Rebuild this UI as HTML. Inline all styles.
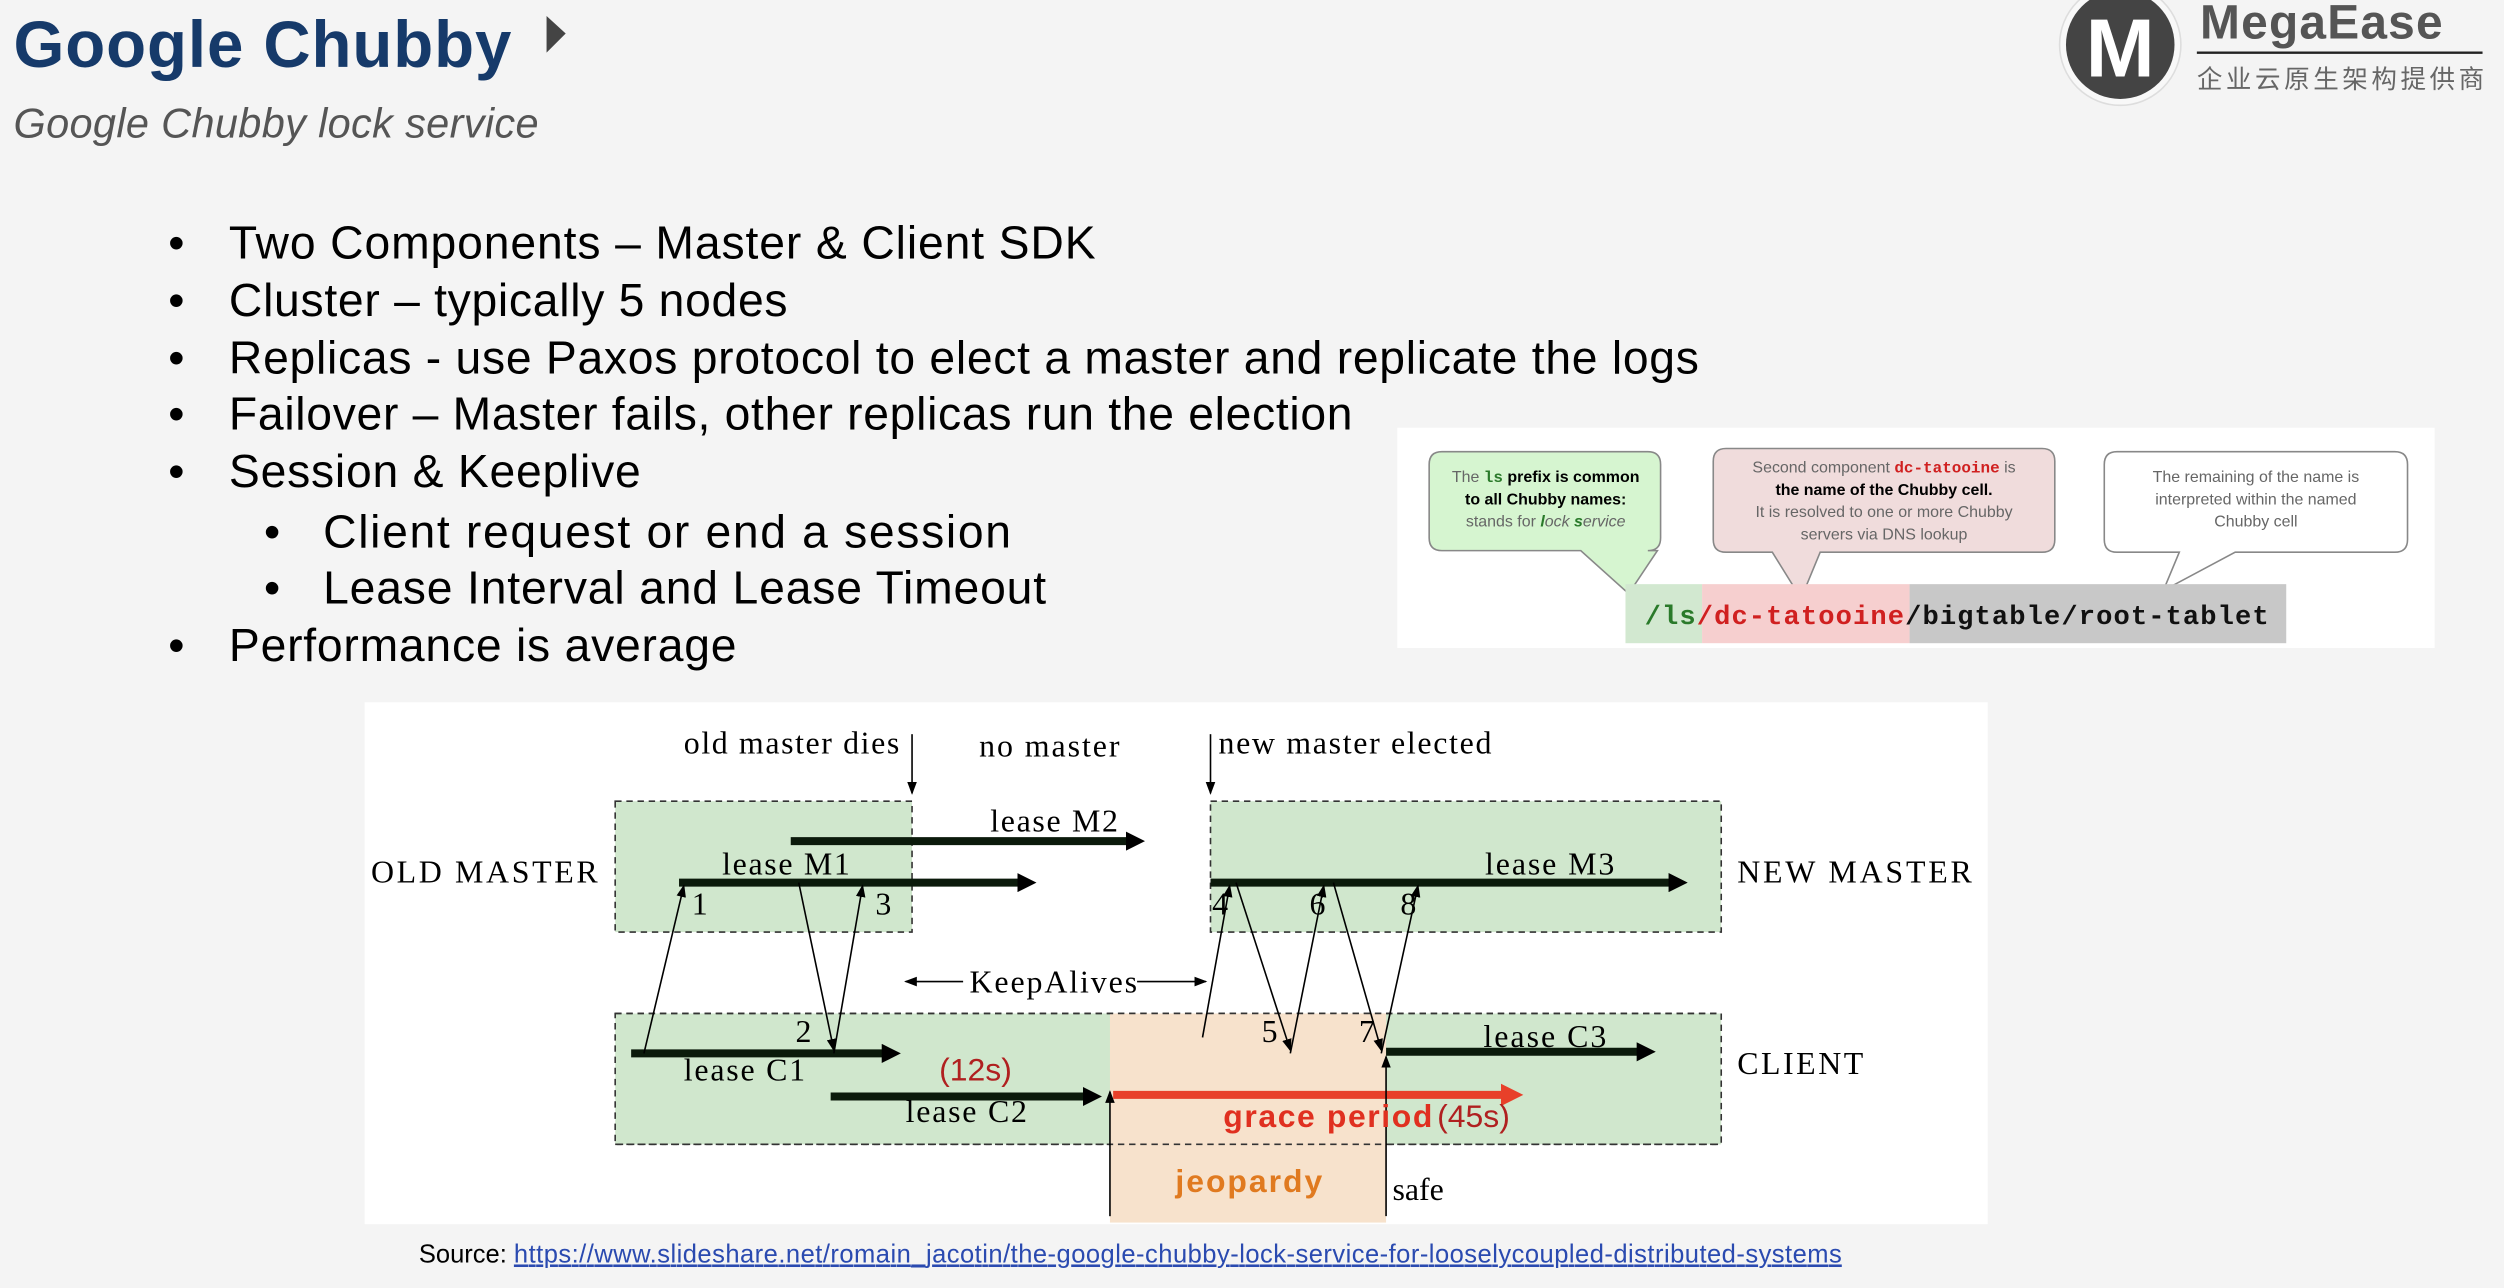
<!DOCTYPE html>
<html><head><meta charset="utf-8"><style>
html,body{margin:0;padding:0;background:#f4f4f4;}
svg{display:block}
</style></head><body>
<svg width="2504" height="1288" viewBox="0 0 1568 807" xmlns="http://www.w3.org/2000/svg">
<defs>
<marker id="ah" markerWidth="8" markerHeight="8" refX="7" refY="4" orient="auto" markerUnits="userSpaceOnUse"><path d="M0,1 L8,4 L0,7 z" fill="#000"/></marker>
<marker id="ahb" markerWidth="12" markerHeight="12" refX="3" refY="6" orient="auto" markerUnits="userSpaceOnUse"><path d="M0,0 L12,6 L0,12 z" fill="#000"/></marker>
<marker id="ahr" markerWidth="14" markerHeight="14" refX="3" refY="7" orient="auto" markerUnits="userSpaceOnUse"><path d="M0,0 L14,7 L0,14 z" fill="#e8402a"/></marker>
</defs>
<rect width="1568" height="807" fill="#f4f4f4"/>
<text x="8" y="42" font-family="Liberation Sans, sans-serif" font-weight="bold" font-size="41" fill="#163a6a" textLength="312">Google Chubby</text>
<path d="M342,10 L354,21 L342,33 z" fill="#444"/>
<text x="8" y="86" font-family="Liberation Sans, sans-serif" font-style="italic" font-size="26" fill="#555" textLength="329">Google Chubby lock service</text>
<circle cx="1328" cy="28" r="38" fill="#f8f8f8" stroke="#ddd"/>
<circle cx="1328" cy="28" r="34" fill="#444"/>
<text x="1328" y="48" text-anchor="middle" font-family="Liberation Sans, sans-serif" font-weight="bold" font-size="52" fill="#fff">M</text>
<text x="1378" y="24" font-family="Liberation Sans, sans-serif" font-weight="bold" font-size="30" fill="#555" textLength="152">MegaEase</text>
<line x1="1376" y1="33" x2="1555" y2="33" stroke="#222" stroke-width="1.5"/>
<text x="1376" y="55" font-family="Liberation Sans, 'Noto Sans CJK SC', sans-serif" font-size="16" fill="#666" textLength="180">企业云原生架构提供商</text>
<g font-family="Liberation Sans, sans-serif" font-size="29" fill="#000">
<text x="105" y="162">•</text><text x="143" y="162" textLength="543">Two Components – Master &amp; Client SDK</text>
<text x="105" y="198">•</text><text x="143" y="198" textLength="350">Cluster – typically 5 nodes</text>
<text x="105" y="234">•</text><text x="143" y="234" textLength="921">Replicas - use Paxos protocol to elect a master and replicate the logs</text>
<text x="105" y="269">•</text><text x="143" y="269" textLength="704">Failover – Master fails, other replicas run the election</text>
<text x="105" y="305">•</text><text x="143" y="305" textLength="258">Session &amp; Keeplive</text>
<text x="165" y="343">•</text><text x="202" y="343" textLength="431">Client request  or end  a session</text>
<text x="165" y="378">•</text><text x="202" y="378" textLength="453">Lease Interval and Lease Timeout</text>
<text x="105" y="414">•</text><text x="143" y="414" textLength="318">Performance is average</text>
</g>
<rect x="875" y="268" width="650" height="138" fill="#fff"/>
<g font-family="Liberation Sans, sans-serif" font-size="10" text-anchor="middle" fill="#666">
<path d="M903,283 H1032 Q1040,283 1040,291 V337 Q1040,345 1032,345 H1038 L1020,372 L990,345 H903 Q895,345 895,337 V291 Q895,283 903,283 z" fill="#d6f5d0" stroke="#888"/>
<text x="968" y="302">The <tspan font-family="Liberation Mono" font-weight="bold" fill="#2a7a2a">ls</tspan> <tspan font-weight="bold" fill="#000">prefix is common</tspan></text>
<text x="968" y="316" font-weight="bold" fill="#000">to all Chubby names:</text>
<text x="968" y="330">stands for <tspan font-style="italic"><tspan fill="#2a7a2a" font-weight="bold">l</tspan>ock <tspan fill="#2a7a2a" font-weight="bold">s</tspan>ervice</tspan></text>
<path d="M1081,281 H1279 Q1287,281 1287,289 V338 Q1287,346 1279,346 H1140 L1128,375 L1110,346 H1081 Q1073,346 1073,338 V289 Q1073,281 1081,281 z" fill="#f0dcdc" stroke="#888"/>
<text x="1180" y="296">Second component <tspan font-family="Liberation Mono" font-weight="bold" fill="#d02020">dc-tatooine</tspan> is</text>
<text x="1180" y="310" font-weight="bold" fill="#000">the name of the Chubby cell.</text>
<text x="1180" y="324">It is resolved to one or more Chubby</text>
<text x="1180" y="338">servers via DNS lookup</text>
<path d="M1326,283 H1500 Q1508,283 1508,291 V338 Q1508,346 1500,346 H1400 L1355,370 L1365,346 H1326 Q1318,346 1318,338 V291 Q1318,283 1326,283 z" fill="#fff" stroke="#888"/>
<text x="1413" y="302">The remaining of the name is</text>
<text x="1413" y="316">interpreted within the named</text>
<text x="1413" y="330">Chubby cell</text>
</g>
<rect x="1018" y="366" width="48" height="37" fill="#d2e8d0"/>
<rect x="1066" y="366" width="130" height="37" fill="#f6cfcf"/>
<rect x="1196" y="366" width="236" height="37" fill="#c8c8c8"/>
<text x="1030" y="391" font-family="Liberation Mono, monospace" font-weight="bold" font-size="17" textLength="391"><tspan fill="#2a7a2a">/ls</tspan><tspan fill="#d02020">/dc-tatooine</tspan><tspan fill="#111">/bigtable/root-tablet</tspan></text>
<rect x="228" y="440" width="1017" height="327" fill="#fff"/>
<rect x="385" y="502" width="186" height="82" fill="#d0e7cd" stroke="#333" stroke-dasharray="4,3"/>
<rect x="758" y="502" width="320" height="82" fill="#d0e7cd" stroke="#333" stroke-dasharray="4,3"/>
<rect x="385" y="635" width="693" height="82" fill="#d0e7cd" stroke="#333" stroke-dasharray="4,3"/>
<rect x="695" y="635" width="173" height="131" fill="#f7e2cc"/>
<line x1="385" y1="635" x2="1078" y2="635" stroke="#333" stroke-dasharray="4,3"/>
<line x1="385" y1="717" x2="1078" y2="717" stroke="#333" stroke-dasharray="4,3"/>
<g stroke="#0b1a0b" stroke-width="5">
<line x1="425" y1="553" x2="640" y2="553" marker-end="url(#ahb)"/>
<line x1="495" y1="527" x2="708" y2="527" marker-end="url(#ahb)"/>
<line x1="758" y1="553" x2="1048" y2="553" marker-end="url(#ahb)"/>
<line x1="395" y1="660" x2="555" y2="660" marker-end="url(#ahb)"/>
<line x1="520" y1="687" x2="681" y2="687" marker-end="url(#ahb)"/>
<line x1="868" y1="659" x2="1028" y2="659" marker-end="url(#ahb)"/>
</g>
<line x1="697" y1="686" x2="943" y2="686" stroke="#e8402a" stroke-width="5" marker-end="url(#ahr)"/>
<g stroke="#000" stroke-width="1" fill="none">
<line x1="403" y1="660" x2="428" y2="555" marker-end="url(#ah)"/>
<line x1="500" y1="553" x2="522" y2="658" marker-end="url(#ah)"/>
<line x1="522" y1="660" x2="540" y2="555" marker-end="url(#ah)"/>
<line x1="753" y1="650" x2="770" y2="555" marker-end="url(#ah)"/>
<line x1="774" y1="553" x2="808" y2="658" marker-end="url(#ah)"/>
<line x1="808" y1="660" x2="829" y2="555" marker-end="url(#ah)"/>
<line x1="835" y1="553" x2="865" y2="658" marker-end="url(#ah)"/>
<line x1="865" y1="660" x2="888" y2="555" marker-end="url(#ah)"/>
<line x1="571" y1="460" x2="571" y2="497" marker-end="url(#ah)"/>
<line x1="758" y1="460" x2="758" y2="497" marker-end="url(#ah)"/>
<line x1="695" y1="762" x2="695" y2="684" marker-end="url(#ah)"/>
<line x1="868" y1="762" x2="868" y2="662" marker-end="url(#ah)"/>
<line x1="603" y1="615" x2="567" y2="615" marker-end="url(#ah)"/>
<line x1="712" y1="615" x2="755" y2="615" marker-end="url(#ah)"/>
</g>
<g font-family="Liberation Serif, serif" font-size="20" fill="#000">
<text x="428" y="472" textLength="135">old master dies</text>
<text x="613" y="474" textLength="88">no master</text>
<text x="763" y="472" textLength="171">new master elected</text>
<text x="620" y="521" textLength="80">lease M2</text>
<text x="452" y="548" textLength="80">lease M1</text>
<text x="930" y="548" textLength="81">lease M3</text>
<text x="232" y="553" textLength="142">OLD MASTER</text>
<text x="1088" y="553" textLength="147">NEW MASTER</text>
<text x="1088" y="673" textLength="79">CLIENT</text>
<text x="607" y="622" textLength="105">KeepAlives</text>
<text x="929" y="656" textLength="77">lease C3</text>
<text x="428" y="677" textLength="76">lease C1</text>
<text x="567" y="703" textLength="76">lease C2</text>
<text x="433" y="573">1</text><text x="548" y="573">3</text>
<text x="759" y="573">4</text><text x="820" y="573">6</text><text x="877" y="573">8</text>
<text x="498" y="653">2</text><text x="790" y="653">5</text><text x="851" y="653">7</text>
<text x="872" y="752">safe</text>
</g>
<g font-family="Liberation Sans, sans-serif" font-size="20">
<text x="588" y="677" fill="#b02020">(12s)</text>
<text x="766" y="706" fill="#e03020" font-weight="bold" textLength="131">grace period</text>
<text x="900" y="706" fill="#b02020">(45s)</text>
<text x="736" y="747" fill="#e07a20" font-weight="bold" textLength="92">jeopardy</text>
</g>
<text x="262" y="791" font-family="Liberation Sans, sans-serif" font-size="16" fill="#000">Source: <tspan fill="#2a4ab0" text-decoration="underline" textLength="832">https://www.slideshare.net/romain_jacotin/the-google-chubby-lock-service-for-looselycoupled-distributed-systems</tspan></text>
</svg>
</body></html>
